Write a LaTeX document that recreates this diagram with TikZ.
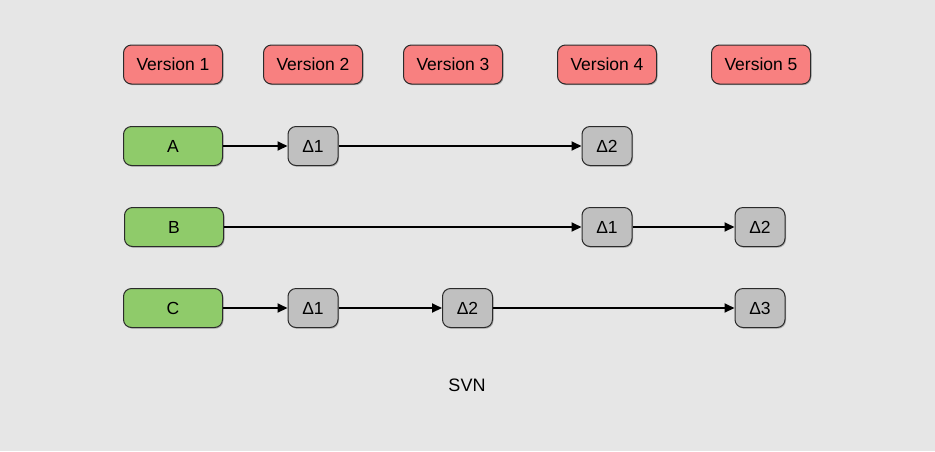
\documentclass[tikz,border=0pt]{standalone}
\usepackage{fontspec}
\setmainfont{Liberation Sans}
\usetikzlibrary{arrows.meta,shadows}
\definecolor{bg}{HTML}{E6E6E6}
\definecolor{verfill}{HTML}{F88080}
\definecolor{filefill}{HTML}{8FCB6A}
\definecolor{deltafill}{HTML}{C0C0C0}
\definecolor{edgecol}{HTML}{2B2B2B}
\tikzset{
  base/.style={draw=edgecol, line width=1pt, rounded corners=8pt, inner sep=0pt,
    font=\fontsize{17.5}{20}\selectfont, text=black,
    drop shadow={shadow xshift=1pt, shadow yshift=-1.2pt, opacity=0.25, fill=black}},
  verbox/.style={base, fill=verfill, minimum width=99pt, minimum height=39pt},
  filebox/.style={base, fill=filefill, minimum width=99pt, minimum height=39pt},
  deltabox/.style={base, fill=deltafill, minimum width=50pt, minimum height=39pt},
  link/.style={draw=black, line width=2pt, -{Triangle[length=10pt,width=9pt]}}
}
\begin{document}
\begin{tikzpicture}[x=1pt,y=-1pt]
\fill[bg] (0,0) rectangle (935,451);
\useasboundingbox (0,0) rectangle (935,451);
% versions
\node[verbox] (v1) at (173,64.5) {Version 1};
\node[verbox] (v2) at (313,64.5) {Version 2};
\node[verbox] (v3) at (453,64.5) {Version 3};
\node[verbox] (v4) at (607,64.5) {Version 4};
\node[verbox] (v5) at (761,64.5) {Version 5};
% files
\node[filebox] (a) at (173,146) {A};
\node[filebox] (b) at (174,227) {B};
\node[filebox] (c) at (173,308) {C};
% deltas row A
\node[deltabox] (a1) at (313,146) {Δ1};
\node[deltabox] (a2) at (607,146) {Δ2};
% row B
\node[deltabox] (b1) at (607,227) {Δ1};
\node[deltabox] (b2) at (760,227) {Δ2};
% row C
\node[deltabox] (c1) at (313,308) {Δ1};
\node[deltabox] (c2) at (467.5,308) {Δ2};
\node[deltabox] (c3) at (760,308) {Δ3};
% label
\node[font=\fontsize{18}{20}\selectfont] (svn) at (467,385) {SVN};
% links
\draw[link] (a) -- (a1);
\draw[link] (a1) -- (a2);
\draw[link] (b) -- (b1);
\draw[link] (b1) -- (b2);
\draw[link] (c) -- (c1);
\draw[link] (c1) -- (c2);
\draw[link] (c2) -- (c3);
\end{tikzpicture}
\end{document}
